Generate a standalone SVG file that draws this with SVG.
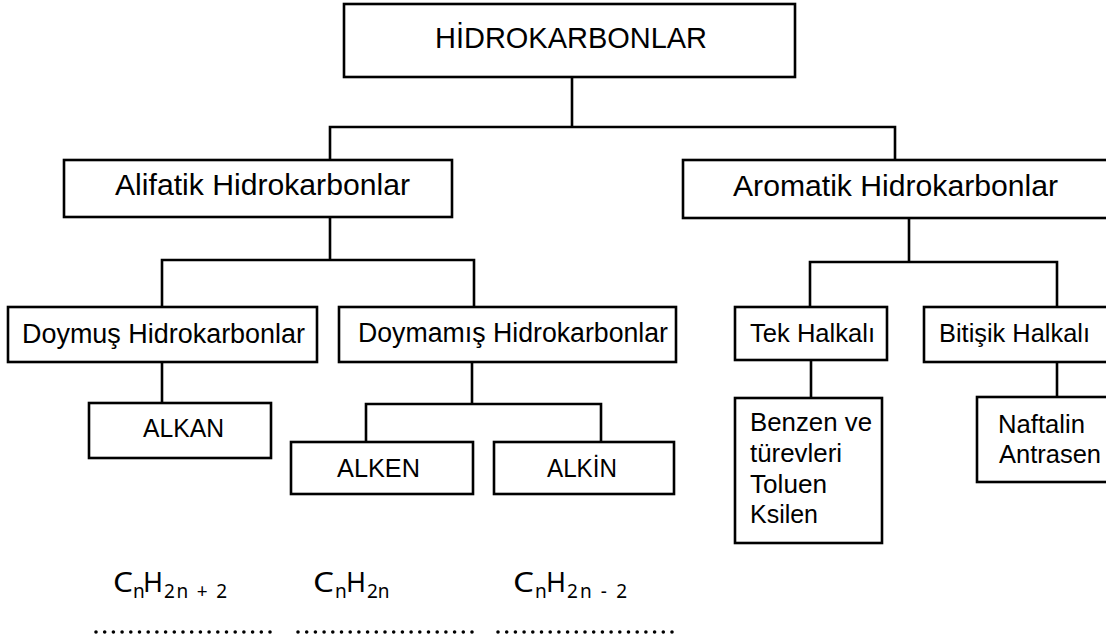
<svg xmlns="http://www.w3.org/2000/svg" width="1106" height="641" viewBox="0 0 1106 641">
<style>
.box{fill:#fff;stroke:#000;stroke-width:2.6}
.ln{fill:none;stroke:#000;stroke-width:2.6;stroke-linecap:square}
.t{font-family:"Liberation Sans",Arial,sans-serif;fill:#000}
.f{font-family:"Noto Sans","Open Sans",sans-serif;fill:#000}
.dots{stroke:#000;stroke-width:3.6;stroke-linecap:round;stroke-dasharray:0 8.7;fill:none}
</style>
<rect width="1106" height="641" fill="#fff"/>
<g id="connectors">
<path class="ln" d="M572 77V127M330 127H895M330 127V160M895 127V160"/>
<path class="ln" d="M330 217V260M162 260H474M162 260V307M474 260V307"/>
<path class="ln" d="M162 362V403"/>
<path class="ln" d="M472 362V404M366 404H601M366 404V442M601 404V442"/>
<path class="ln" d="M909 218V262M810 262H1057M810 262V307M1057 262V307"/>
<path class="ln" d="M811 360V398"/>
<path class="ln" d="M1057 362V397"/>
</g>
<g id="hidrokarbonlar"><rect class="box" x="344" y="4" width="451" height="73"/><text class="t" x="435" y="48" font-size="29" textLength="272" lengthAdjust="spacingAndGlyphs">HİDROKARBONLAR</text></g>
<g id="alifatik"><rect class="box" x="64" y="160" width="388" height="57"/><text class="t" x="115" y="195" font-size="30" textLength="295" lengthAdjust="spacingAndGlyphs">Alifatik Hidrokarbonlar</text></g>
<g id="aromatik"><rect class="box" x="683" y="160" width="430" height="58"/><text class="t" x="733" y="196" font-size="30" textLength="325" lengthAdjust="spacingAndGlyphs">Aromatik Hidrokarbonlar</text></g>
<g id="doymus"><rect class="box" x="8" y="307" width="309" height="55"/><text class="t" x="22" y="343" font-size="27" textLength="283" lengthAdjust="spacingAndGlyphs">Doymuş Hidrokarbonlar</text></g>
<g id="doymamis"><rect class="box" x="339" y="307" width="337" height="55"/><text class="t" x="358" y="342" font-size="27" textLength="310" lengthAdjust="spacingAndGlyphs">Doymamış Hidrokarbonlar</text></g>
<g id="alkan"><rect class="box" x="89" y="403" width="182" height="55"/><text class="t" x="143" y="437" font-size="25" textLength="81" lengthAdjust="spacingAndGlyphs">ALKAN</text></g>
<g id="alken"><rect class="box" x="291" y="442" width="182" height="52"/><text class="t" x="337" y="477" font-size="25" textLength="83" lengthAdjust="spacingAndGlyphs">ALKEN</text></g>
<g id="alkin"><rect class="box" x="494" y="442" width="180" height="52"/><text class="t" x="547" y="477" font-size="25" textLength="70" lengthAdjust="spacingAndGlyphs">ALKİN</text></g>
<g id="tek"><rect class="box" x="735" y="307" width="152" height="53"/><text class="t" x="750" y="342" font-size="26" textLength="125" lengthAdjust="spacingAndGlyphs">Tek Halkalı</text></g>
<g id="bitisik"><rect class="box" x="924" y="307" width="189" height="55"/><text class="t" x="939" y="342" font-size="26" textLength="151" lengthAdjust="spacingAndGlyphs">Bitişik Halkalı</text></g>
<g id="benzen"><rect class="box" x="735" y="398" width="147" height="145"/>
<text class="t" font-size="26"><tspan x="750" y="431" textLength="122" lengthAdjust="spacingAndGlyphs">Benzen ve</tspan><tspan x="750" y="462" textLength="92" lengthAdjust="spacingAndGlyphs">türevleri</tspan><tspan x="750" y="493" textLength="77" lengthAdjust="spacingAndGlyphs">Toluen</tspan><tspan x="750" y="523" textLength="68" lengthAdjust="spacingAndGlyphs">Ksilen</tspan></text></g>
<g id="naftalin"><rect class="box" x="977" y="397" width="136" height="85"/>
<text class="t" font-size="26"><tspan x="998" y="433" textLength="87" lengthAdjust="spacingAndGlyphs">Naftalin</tspan><tspan x="999" y="463" textLength="102" lengthAdjust="spacingAndGlyphs">Antrasen</tspan></text></g>
<g id="formulas">
<text class="f" font-size="27" x="113" y="592" textLength="20" lengthAdjust="spacingAndGlyphs">C</text><text class="f" font-size="19" x="133" y="598">n</text><text class="f" font-size="27" x="143" y="592">H</text><text class="f" font-size="19" x="164" y="598" textLength="63" lengthAdjust="spacing">2n + 2</text>
<text class="f" font-size="27" x="313" y="592" textLength="21" lengthAdjust="spacingAndGlyphs">C</text><text class="f" font-size="19" x="335" y="598">n</text><text class="f" font-size="27" x="346" y="592">H</text><text class="f" font-size="19" x="367" y="598">2n</text>
<text class="f" font-size="27" x="513" y="592" textLength="21" lengthAdjust="spacingAndGlyphs">C</text><text class="f" font-size="19" x="535" y="598">n</text><text class="f" font-size="27" x="546" y="592">H</text><text class="f" font-size="19" x="567" y="598" textLength="60" lengthAdjust="spacing">2n - 2</text>
<path class="dots" d="M96 632H270M298 632H473M498 632H678"/>
</g>
</svg>
